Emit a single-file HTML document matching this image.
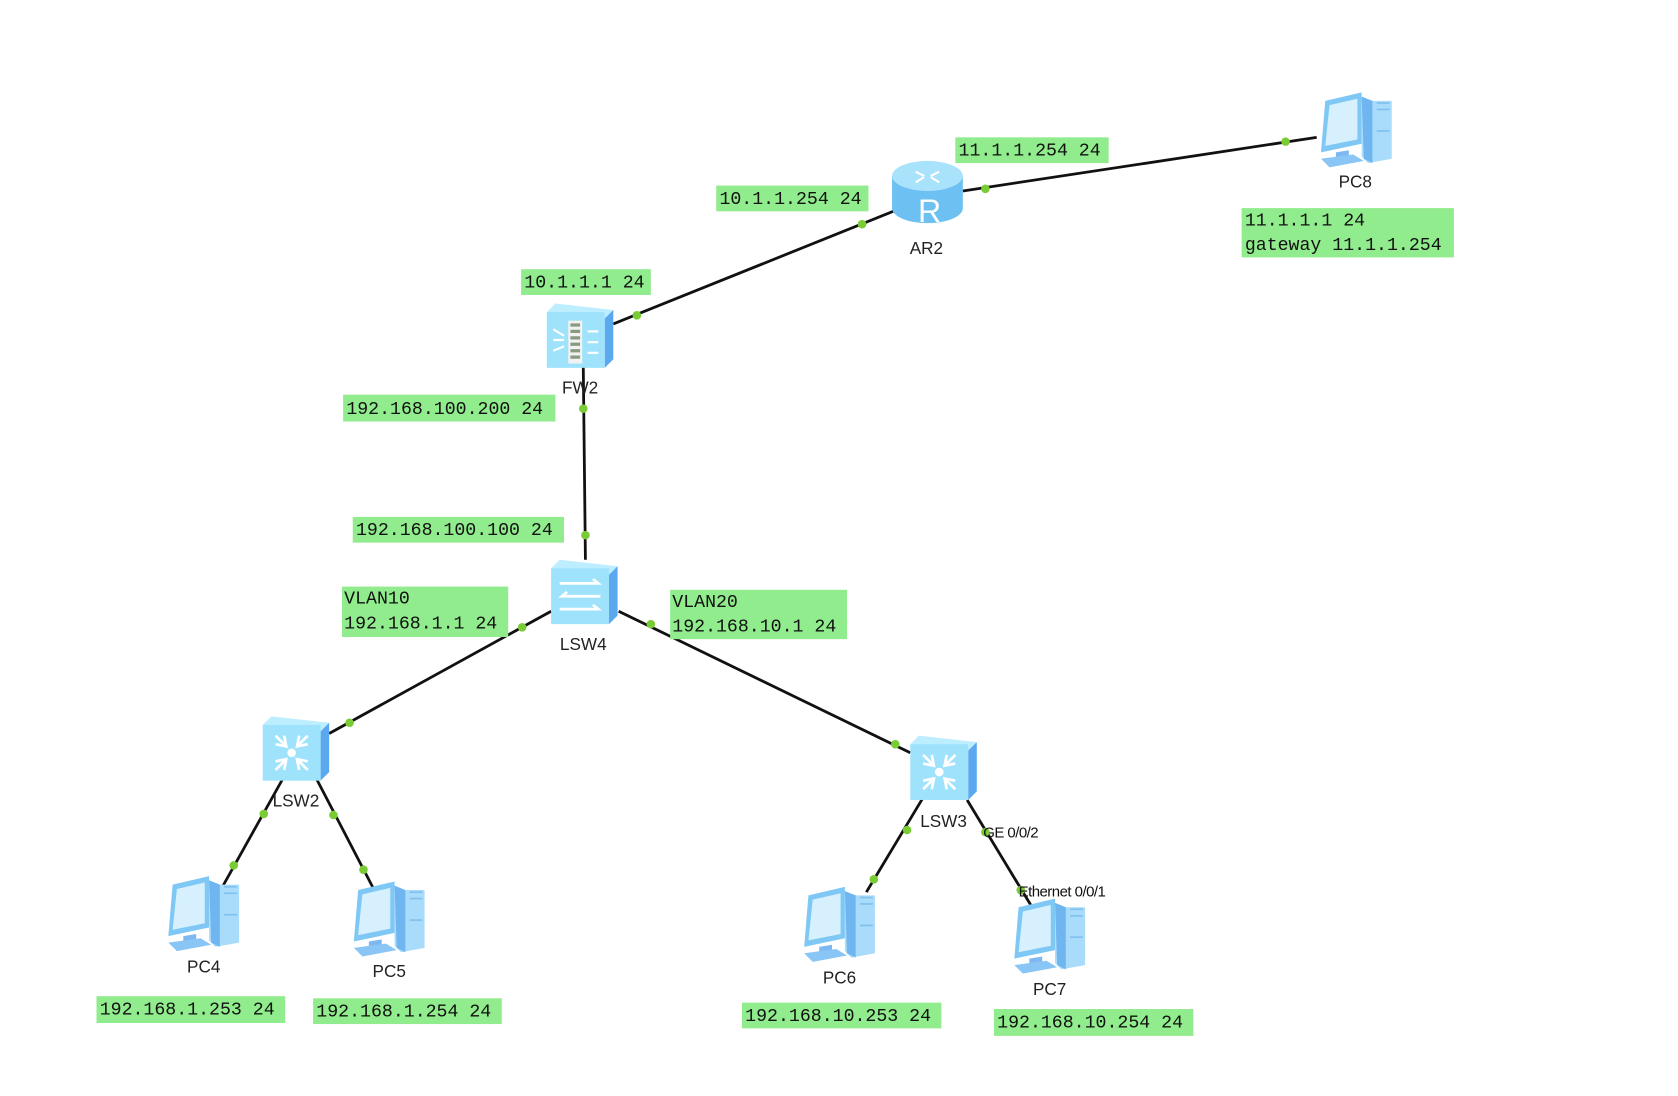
<!DOCTYPE html>
<html><head><meta charset="utf-8"><style>
html,body{margin:0;padding:0;background:#fff;}
svg{display:block}
.lb{fill:#90ec8c}
.mt{font-family:"Liberation Mono",monospace;font-size:17px;fill:#111}
.nt{font-family:"Liberation Sans",sans-serif;font-size:16px;fill:#222;text-anchor:middle}
.st{font-family:"Liberation Sans",sans-serif;font-size:14px;fill:#111;letter-spacing:-0.5px}
.ln{stroke:#111;stroke-width:2.6;fill:none}
.dt{fill:#7acc35}
</style></head><body>
<svg width="1678" height="1096" viewBox="0 0 1565 1022" xmlns="http://www.w3.org/2000/svg">
<defs>
<g id="pc">
  <path d="M8,8 L42,0 L42,48 L4,56 Z" fill="#7fc8f5"/>
  <path d="M12,12 L38,6 L38,44 L8,50 Z" fill="#d6f1fd"/>
  <path d="M42,4 L52,8 L70,8 L70,62 L48,66 L42,60 Z" fill="#a8dcfa"/>
  <path d="M42,4 L52,8 L52,66 L44,62 Z" fill="#6fb5f0"/>
  <path d="M56,10 L68,10 M56,16 L68,16 M56,36 L68,36" stroke="#7fc0ee" stroke-width="1.5"/>
  <path d="M18,56 L30,54 L30,62 L10,66 L18,60 Z" fill="#7fb8f0"/>
  <path d="M4,62 L34,58 L44,64 L12,70 Z" fill="#8ac6f5"/>
</g>
<g id="box">
  <path d="M0,8 L8,0 L62,6 L54,14 Z" fill="#bdeeff"/>
  <path d="M54,14 L62,6 L62,52 L54,60 Z" fill="#5aa8f0"/>
  <rect x="0" y="8" width="54" height="52" fill="#9fe2fb"/>
</g>
<g id="l3">
  <use href="#box"/>
  <circle cx="27" cy="34" r="4" fill="#fff"/>
  <path d="M12,18 L22,28 M12,26 L22,28 L20,18 M42,18 L32,28 M42,26 L32,28 L34,18 M12,50 L22,40 M12,42 L22,40 L20,50 M42,50 L32,40 M42,42 L32,40 L34,50" stroke="#fff" stroke-width="2.5" fill="none"/>
</g>
</defs>

<!-- lines -->
<line class="ln" x1="898" y1="178" x2="1228" y2="128"/>
<line class="ln" x1="572" y1="302" x2="833" y2="197"/>
<line class="ln" x1="544" y1="342" x2="546" y2="522"/>
<line class="ln" x1="514" y1="570" x2="307" y2="684"/>
<line class="ln" x1="577" y1="570" x2="849" y2="702"/>
<line class="ln" x1="265" y1="724" x2="208" y2="826"/>
<line class="ln" x1="295" y1="726" x2="348" y2="828"/>
<line class="ln" x1="862" y1="742" x2="808" y2="832"/>
<line class="ln" x1="902" y1="746" x2="962" y2="845"/>

<!-- dots -->
<g class="dt">
<circle cx="919" cy="176" r="4"/><circle cx="1199" cy="132" r="4"/>
<circle cx="594" cy="294" r="4"/><circle cx="804" cy="209" r="4"/>
<circle cx="544" cy="381" r="4"/><circle cx="546" cy="499" r="4"/>
<circle cx="487" cy="585" r="4"/><circle cx="326" cy="674" r="4"/>
<circle cx="607" cy="582" r="4"/><circle cx="835" cy="694" r="4"/>
<circle cx="246" cy="759" r="4"/><circle cx="218" cy="807" r="4"/>
<circle cx="311" cy="760" r="4"/><circle cx="339" cy="811" r="4"/>
<circle cx="846" cy="774" r="4"/><circle cx="815" cy="820" r="4"/>
<circle cx="919" cy="776" r="4"/><circle cx="952" cy="830" r="4"/>
</g>

<!-- router AR2 -->
<g transform="translate(832,150)">
  <path d="M0,14 L0,44 A33,14 0 0 0 66,44 L66,14 Z" fill="#6cc0f2"/>
  <ellipse cx="33" cy="14" rx="33" ry="14" fill="#a9e2fb"/>
  <text x="35" y="57" font-family="Liberation Sans,sans-serif" font-size="30" fill="#fff" text-anchor="middle">R</text>
  <path d="M22,10 L30,14 M44,10 L36,14 M22,20 L30,15 M44,20 L36,15" stroke="#fff" stroke-width="2"/>
</g>
<!-- firewall FW2 -->
<g transform="translate(510,283)">
  <use href="#box"/>
  <rect x="20" y="16" width="13" height="40" fill="#f2f2f2"/>
  <path d="M22,20h9M22,26h9M22,32h9M22,38h9M22,44h9M22,50h9" stroke="#8a9a80" stroke-width="3"/>
  <path d="M6,24 L16,30 M6,34 L16,34 M6,44 L16,40 M38,26h10 M38,36h10 M38,46h10" stroke="#fff" stroke-width="2"/>
</g>
<!-- LSW4 -->
<g transform="translate(514,522)">
  <use href="#box"/>
  <path d="M8,22h36l-5,-4 M46,34h-36l5,-4 M8,46h36l-5,-4" stroke="#fff" stroke-width="2.5" fill="none"/>
</g>
<use href="#l3" transform="translate(245,668)"/>
<use href="#l3" transform="translate(849,686)"/>

<use href="#pc" transform="translate(1228,86)"/>
<use href="#pc" transform="translate(153,817)"/>
<use href="#pc" transform="translate(326,822)"/>
<use href="#pc" transform="translate(746,827)"/>
<use href="#pc" transform="translate(942,838)"/>

<!-- node names -->
<text class="nt" x="864" y="237">AR2</text>
<text class="nt" x="1264" y="175">PC8</text>
<text class="nt" x="541" y="367">FW2</text>
<text class="nt" x="544" y="606">LSW4</text>
<text class="nt" x="276" y="752">LSW2</text>
<text class="nt" x="880" y="771">LSW3</text>
<text class="nt" x="190" y="907">PC4</text>
<text class="nt" x="363" y="911">PC5</text>
<text class="nt" x="783" y="917">PC6</text>
<text class="nt" x="979" y="928">PC7</text>
<text class="st" x="917" y="781">GE 0/0/2</text>
<text class="st" x="950" y="836">Ethernet 0/0/1</text>

<!-- labels -->
<rect class="lb" x="891" y="128" width="143" height="24"/><text class="mt" x="894" y="145">11.1.1.254 24</text>
<rect class="lb" x="668" y="173" width="142" height="24"/><text class="mt" x="671" y="190">10.1.1.254 24</text>
<rect class="lb" x="486" y="251" width="121" height="24"/><text class="mt" x="489" y="268">10.1.1.1 24</text>
<rect class="lb" x="1158" y="194" width="198" height="46"/><text class="mt" x="1161" y="210">11.1.1.1 24</text><text class="mt" x="1161" y="233">gateway 11.1.1.254</text>
<rect class="lb" x="320" y="368" width="198" height="25"/><text class="mt" x="323" y="386">192.168.100.200 24</text>
<rect class="lb" x="329" y="482" width="197" height="24"/><text class="mt" x="332" y="499">192.168.100.100 24</text>
<rect class="lb" x="319" y="547" width="155" height="47"/><text class="mt" x="321" y="563">VLAN10</text><text class="mt" x="321" y="586">192.168.1.1 24</text>
<rect class="lb" x="625" y="550" width="165" height="46"/><text class="mt" x="627" y="566">VLAN20</text><text class="mt" x="627" y="589">192.168.10.1 24</text>
<rect class="lb" x="90" y="929" width="176" height="25"/><text class="mt" x="93" y="946">192.168.1.253 24</text>
<rect class="lb" x="292" y="931" width="176" height="24"/><text class="mt" x="295" y="948">192.168.1.254 24</text>
<rect class="lb" x="692" y="935" width="186" height="24"/><text class="mt" x="695" y="952">192.168.10.253 24</text>
<rect class="lb" x="927" y="941" width="186" height="25"/><text class="mt" x="930" y="958">192.168.10.254 24</text>
</svg>
</body></html>
